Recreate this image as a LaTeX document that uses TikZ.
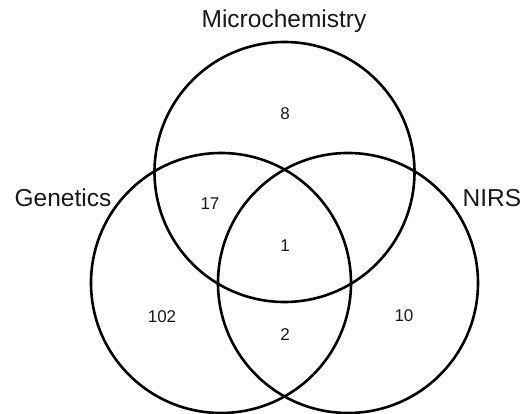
\documentclass[tikz,border=0pt]{standalone}
\usepackage{fontspec}
\setmainfont{Liberation Sans}
\begin{document}
\begin{tikzpicture}[x=1pt,y=-1pt,
  setcircle/.style={draw=black,line width=2.6pt,circle,minimum size=260pt,inner sep=0pt},
  setlabel/.style={font=\fontsize{24.5}{28}\selectfont,text=black!90,inner sep=0pt},
  count/.style={font=\fontsize{17}{20}\selectfont,text=black!90,inner sep=0pt}]
\useasboundingbox (0,0) rectangle (523,414);
\node[setcircle] (micro) at (284.5,172) {};
\node[setcircle] (gen) at (221,283) {};
\node[setcircle] (nirs) at (348,283) {};
\node[setlabel] (lmicro) at (284,21) {Microchemistry};
\node[setlabel] (lgen) at (63,198) {Genetics};
\node[setlabel] (lnirs) at (492,198) {NIRS};
\node[count] (c8) at (285,114) {8};
\node[count] (c17) at (210,204) {17};
\node[count] (c1) at (285,246) {1};
\node[count] (c102) at (162,317) {102};
\node[count] (c10) at (404,316) {10};
\node[count] (c2) at (285,335) {2};
\end{tikzpicture}
\end{document}
